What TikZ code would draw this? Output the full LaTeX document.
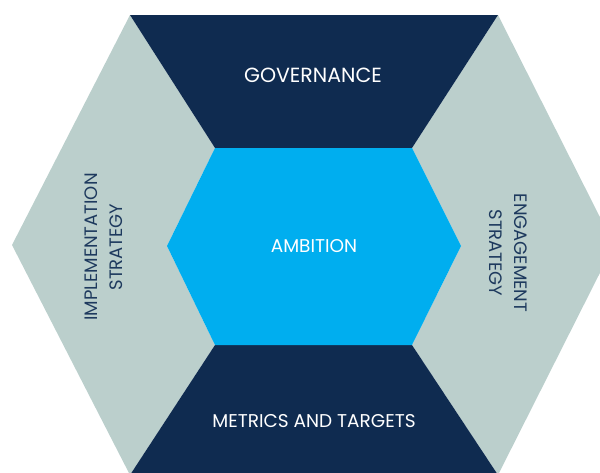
\documentclass[tikz,border=0pt]{standalone}
\usepackage{fontspec}
\setmainfont{Poppins}
\definecolor{navy}{HTML}{0F2B50}
\definecolor{sky}{HTML}{00AEEF}
\definecolor{sage}{HTML}{BBCFCC}
\definecolor{ink}{HTML}{1E3A5E}
\begin{document}
\begin{tikzpicture}[x=1pt,y=-1pt,
  lightlabel/.style={text=white,font=\fontsize{18.5}{24}\selectfont,align=center},
  darklabel/.style={text=ink,font=\fontsize{18}{25}\selectfont,align=center}]
\useasboundingbox (0,0) rectangle (600,472);
% outer hexagon corners
\coordinate (otl) at (130,15);
\coordinate (otr) at (498,15);
\coordinate (or)  at (614,245);
\coordinate (obr) at (498,475);
\coordinate (obl) at (130,475);
\coordinate (ol)  at (12,245);
% inner hexagon corners
\coordinate (itl) at (215,148);
\coordinate (itr) at (412,148);
\coordinate (ir)  at (461,246);
\coordinate (ibr) at (412,345);
\coordinate (ibl) at (215,345);
\coordinate (il)  at (167,246);
\begin{scope}
\clip (0,0) rectangle (600,472);
% side panels
\fill[sage] (otl) -- (ol) -- (obl) -- (ibl) -- (il) -- (itl) -- cycle;
\fill[sage] (otr) -- (or) -- (obr) -- (ibr) -- (ir) -- (itr) -- cycle;
% top and bottom panels
\fill[navy] (otl) -- (otr) -- (itr) -- (itl) -- cycle;
\fill[navy] (ibl) -- (ibr) -- (obr) -- (obl) -- cycle;
% centre hexagon
\fill[sky] (itl) -- (itr) -- (ir) -- (ibr) -- (ibl) -- (il) -- cycle;
\end{scope}
% labels
\node[lightlabel,font=\fontsize{20.5}{24}\selectfont] (gov) at (313,75) {GOVERNANCE};
\node[lightlabel] (amb) at (314,246) {AMBITION};
\node[lightlabel] (met) at (314,421) {METRICS AND TARGETS};
\node[darklabel,rotate=90] (imp) at (104,247) {IMPLEMENTATION\\STRATEGY};
\node[darklabel,rotate=-90] (eng) at (508,253) {ENGAGEMENT\\STRATEGY};
\end{tikzpicture}
\end{document}
